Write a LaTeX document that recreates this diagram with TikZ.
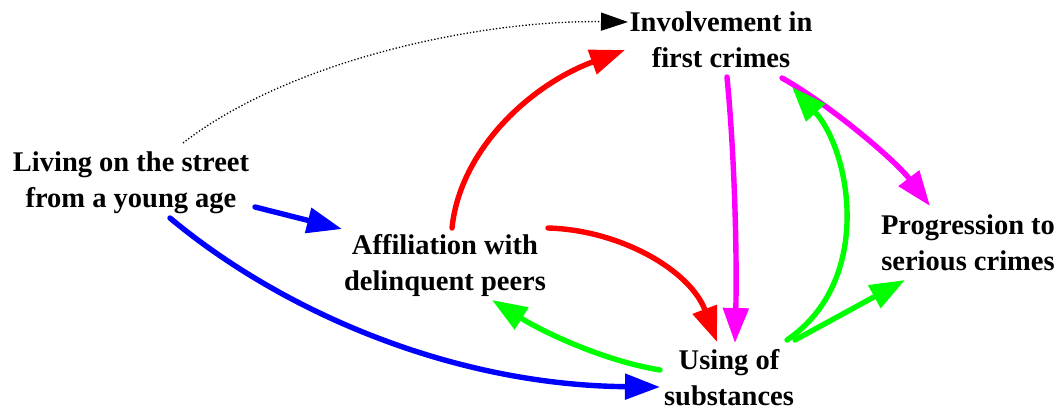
\documentclass[tikz,border=0pt]{standalone}
\usepackage{fontspec}
\setmainfont{Liberation Serif}
\usetikzlibrary{arrows.meta}
\definecolor{cred}{RGB}{255,0,0}
\definecolor{cblue}{RGB}{0,0,255}
\definecolor{cmag}{RGB}{255,0,255}
\definecolor{cgreen}{RGB}{0,255,0}
\tikzset{
  lbl/.style={align=center,inner sep=0pt,font=\fontsize{28.5}{36}\selectfont\bfseries},
  conn/.style={line width=5.4pt,line cap=round,-{Triangle[length=35pt,width=25pt]}},
  dotconn/.style={line width=1.3pt,dotted,-{Triangle[length=27pt,width=18pt]}},
}
\begin{document}
\begin{tikzpicture}[x=1pt,y=-1pt]
\useasboundingbox (0,0) rectangle (1059,412);
\node[lbl] (living) at (131,183) {Living on the street\\from a young age};
\node[lbl] (invol) at (721,40) {Involvement in\\first crimes};
\node[lbl] (affil) at (445,265) {Affiliation with\\delinquent peers};
\node[lbl] (progr) at (968,243) {Progression to\\serious crimes};
\node[lbl] (using) at (729,378) {Using of\\substances};
% dotted
\draw[dotconn] ([shift={(52,-40)}]living.center) .. controls (290,60) and (480,20) .. ([shift={(-93,-18)}]invol.center);
% blue
\draw[conn,cblue] ([shift={(124,24)}]living.center) -- ([shift={(-103,-36)}]affil.center);
\draw[conn,cblue] ([shift={(39,35)}]living.center) .. controls (280,310) and (450,385) .. ([shift={(-69,9)}]using.center);
% red
\draw[conn,cred] ([shift={(7,-37)}]affil.center) .. controls (460,150) and (530,85) .. ([shift={(-96,10)}]invol.center);
\draw[conn,cred] ([shift={(103,-37)}]affil.center) .. controls (620,230) and (690,270) .. ([shift={(-12,-36)}]using.center);
% magenta
\draw[conn,cmag] ([shift={(6,37)}]invol.center) .. controls (735,160) and (737,260) .. ([shift={(6,-35)}]using.center);
\draw[conn,cmag] ([shift={(61,38)}]invol.center) .. controls (830,105) and (895,160) .. ([shift={(-38,-37)}]progr.center);
% green
\draw[conn,cgreen] ([shift={(58,-38)}]using.center) .. controls (875,280) and (850,150) .. ([shift={(71,47)}]invol.center);
\draw[conn,cgreen] ([shift={(66,-38)}]using.center) -- ([shift={(-63,37)}]progr.center);
\draw[conn,cgreen] ([shift={(-69,-8)}]using.center) .. controls (600,360) and (540,330) .. ([shift={(47,35)}]affil.center);
\end{tikzpicture}
\end{document}
